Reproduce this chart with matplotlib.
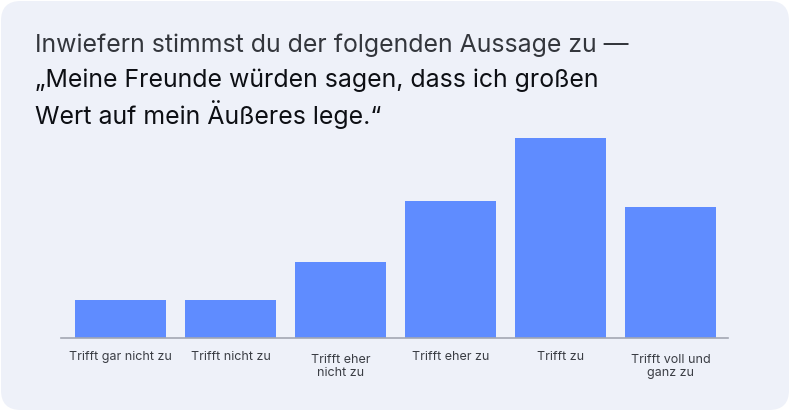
import matplotlib
matplotlib.use("Agg")
import matplotlib.pyplot as plt
from matplotlib.patches import FancyBboxPatch
from matplotlib.transforms import ScaledTranslation

categories = ["Trifft gar nicht zu", "Trifft nicht zu", "Trifft eher\nnicht zu",
              "Trifft eher zu", "Trifft zu", "Trifft voll und\nganz zu"]
values = [6.1, 6.1, 12.3, 22.1, 32.3, 21.1]
title_line1 = "Inwiefern stimmst du der folgenden Aussage zu —"
title_line2 = "„Meine Freunde würden sagen, dass ich großen"
title_line3 = "Wert auf mein Äußeres lege.“"

plt.rcParams['font.family'] = ['Inter', 'DejaVu Sans']

W, H = 790, 411
fig = plt.figure(figsize=(W / 100, H / 100), dpi=100)
fig.patch.set_facecolor("white")

bg = FancyBboxPatch((1 / W, 1 / H), (W - 2) / W, (H - 2) / H,
                    boxstyle="round,pad=0,rounding_size=0.025",
                    transform=fig.transFigure, facecolor="#eef1f9",
                    edgecolor="none", mutation_aspect=W / H, zorder=-10)
fig.patches.append(bg)

fig.text(35 / W, 1 - 45 / H, title_line1, fontsize=17.9, color="#33363c",
         va="center", ha="left")
fig.text(35 / W, 1 - 80 / H, title_line2, fontsize=17.9, color="#0d0f14",
         va="center", ha="left")
fig.text(35 / W, 1 - 115 / H, title_line3, fontsize=17.9, color="#0d0f14",
         va="center", ha="left")

ax_left, ax_right = 61, 728
ax_bottom, ax_top = 338, 138
ax = fig.add_axes([ax_left / W, 1 - ax_bottom / H, (ax_right - ax_left) / W,
                   (ax_bottom - ax_top) / H])
ax.set_zorder(5)
ax.set_facecolor("none")
x = list(range(len(categories)))
ax.bar(x, values, width=0.827, color="#5f8cff", zorder=2)
ax.set_xlim(-0.54, 5.52)
ax.set_ylim(0, max(values))
ax.set_xticks(x)
ax.set_xticklabels(categories, fontsize=9, color="#3a3d44", linespacing=1.2)
ax.tick_params(axis="x", length=0, pad=9)
for lab in ax.get_xticklabels():
    if "\n" in lab.get_text():
        lab.set_transform(lab.get_transform() +
                          ScaledTranslation(0, -3 / 100, fig.dpi_scale_trans))
ax.set_yticks([])
for s in ["top", "right", "left"]:
    ax.spines[s].set_visible(False)
ax.spines["bottom"].set_color("#a3a7b3")
ax.spines["bottom"].set_linewidth(1.2)
ax.spines["bottom"].set_zorder(3)

fig.savefig("out.png", dpi=100, facecolor="white")
